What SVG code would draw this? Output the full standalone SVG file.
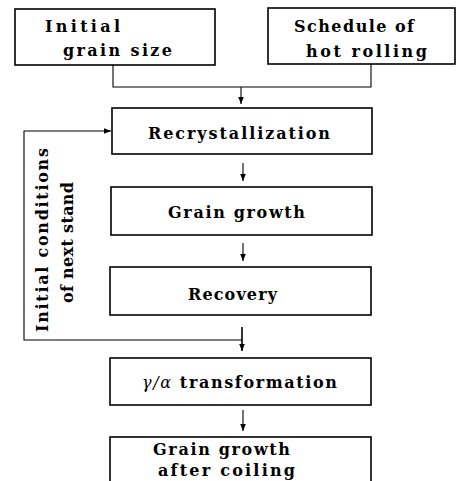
<svg xmlns="http://www.w3.org/2000/svg" width="469" height="481" viewBox="0 0 469 481">
<style>
.box{fill:#fff;stroke:#000;stroke-width:1.6}
.lbl{font-family:"DejaVu Serif","Liberation Serif",serif;font-weight:bold;font-size:16px;fill:#000}
.con{fill:none;stroke:#000;stroke-width:1.1}
</style>
<defs>
<marker id="ah" markerUnits="userSpaceOnUse" markerWidth="8" markerHeight="8" viewBox="0 0 8 8" refX="7" refY="4" orient="auto">
<path d="M0,1.2 L7,4 L0,6.8 z" fill="#000"/>
</marker>
</defs>
<rect width="469" height="481" fill="#fff"/>
<g id="connectors">
<polyline class="con" points="113,65 113,87 371,87 371,64"/>
<line class="con" x1="241" y1="87" x2="241" y2="104" marker-end="url(#ah)"/>
<line class="con" x1="243" y1="163" x2="243" y2="181" marker-end="url(#ah)"/>
<line class="con" x1="243" y1="243" x2="243" y2="261" marker-end="url(#ah)"/>
<line class="con" x1="242" y1="327" x2="242" y2="351" marker-end="url(#ah)" style="stroke-width:1.6"/>
<polyline class="con" points="242,340 24,340 24,131 111,131" marker-end="url(#ah)"/>
<line class="con" x1="243" y1="410" x2="243" y2="431" marker-end="url(#ah)"/>
</g>
<g id="feedback-label">
<text class="lbl" transform="translate(48,240) rotate(-90)" text-anchor="middle" textLength="184" lengthAdjust="spacing">Initial conditions</text>
<text class="lbl" transform="translate(73,242.5) rotate(-90)" text-anchor="middle" textLength="121" lengthAdjust="spacing">of next stand</text>
</g>
<g id="initial-grain-size">
<rect class="box" x="15" y="9" width="200" height="56"/>
<text class="lbl" x="45" y="32" textLength="75" lengthAdjust="spacing">Initial</text>
<text class="lbl" x="63" y="56" textLength="109" lengthAdjust="spacing">grain size</text>
</g>
<g id="schedule">
<rect class="box" x="268" y="8" width="187" height="56"/>
<text class="lbl" x="294" y="32" textLength="120" lengthAdjust="spacing">Schedule of</text>
<text class="lbl" x="306" y="57" textLength="121" lengthAdjust="spacing">hot rolling</text>
</g>
<g id="recrystallization">
<rect class="box" x="112" y="108" width="260" height="46"/>
<text class="lbl" x="148" y="139" textLength="182" lengthAdjust="spacing">Recrystallization</text>
</g>
<g id="grain-growth">
<rect class="box" x="111" y="187" width="261" height="48"/>
<text class="lbl" x="168" y="218" textLength="137" lengthAdjust="spacing">Grain growth</text>
</g>
<g id="recovery">
<rect class="box" x="110" y="267" width="261" height="48"/>
<text class="lbl" x="188" y="300" textLength="89" lengthAdjust="spacing">Recovery</text>
</g>
<g id="transformation">
<rect class="box" x="110" y="358" width="261" height="47"/>
<text class="lbl" x="142" y="388" textLength="195" lengthAdjust="spacing"><tspan font-style="italic" font-weight="normal">γ/α</tspan> transformation</text>
</g>
<g id="grain-growth-after-coiling">
<rect class="box" x="110" y="437" width="261" height="60"/>
<text class="lbl" x="153" y="455" textLength="137" lengthAdjust="spacing">Grain growth</text>
<text class="lbl" x="158" y="476" textLength="137" lengthAdjust="spacing">after coiling</text>
</g>
</svg>
